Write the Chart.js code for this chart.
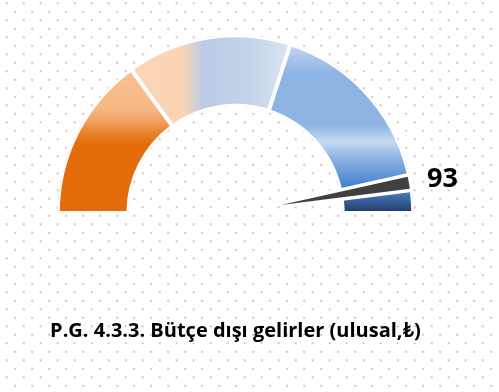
<!DOCTYPE html>
<html lang="tr">
<head>
<meta charset="utf-8">
<title>P.G. 4.3.3. Bütçe dışı gelirler</title>
<script src="https://cdn.jsdelivr.net/npm/chart.js@4.4.1/dist/chart.umd.min.js"></script>
<style>
  html, body { margin: 0; padding: 0; background: #fff; }
  #wrap { position: relative; width: 499px; height: 392px; overflow: hidden; }
  #wrap canvas { position: absolute; left: 0; top: 0; }
</style>
</head>
<body>
<div id="wrap">
  <canvas id="dots" width="499" height="392"></canvas>
  <canvas id="gauge" width="499" height="392"></canvas>
  <canvas id="halo" width="499" height="392"></canvas>
  <canvas id="needle" width="499" height="392"></canvas>
</div>
<script>
// ---- data ----
const bandLabels = ['Bant 1', 'Bant 2', 'Bant 3', 'Bant 4'];
const bandValues = [30, 30, 35, 5];
const needleValue = 93;
const needleWidth = 3;
const scaleMax = 100;
const titleText = 'P.G. 4.3.3. Bütçe dışı gelirler (ulusal,₺)';

// needle pie: hidden part, needle slice, hidden rest
const needleData = [needleValue, needleWidth, scaleMax - needleValue - needleWidth];

// ---- geometry & style ----
const W = 499, H = 392;
const CX = 235.5, CY = 213;          // centre of the gauge ring
const R_GAUGE = 178;
const R_NEEDLE = 130;
const NEEDLE_SHIFT = 46;             // the needle slice is pulled out of the centre
const FONT = '"Open Sans", Lato, "Noto Sans", "DejaVu Sans", sans-serif';

// padding that puts the centre of a half-pie of radius r at (x, y)
function padAt(x, y, r) {
  return {
    left: x > W / 2 ? 2 * x - W : 0,
    right: x > W / 2 ? 0 : W - 2 * x,
    top: 0,
    bottom: H - 2 * (y - r / 2)
  };
}

// the exploded needle slice keeps its angles, its apex moves along the bisector
const needleMid = Math.PI * (needleValue + needleWidth / 2) / scaleMax;
const APEX_X = CX - Math.cos(needleMid) * NEEDLE_SHIFT;
const APEX_Y = CY - Math.sin(needleMid) * NEEDLE_SHIFT;

// dotted backdrop
(function drawDots() {
  const c = document.getElementById('dots').getContext('2d');
  c.fillStyle = 'rgba(222,120,120,0.5)';
  for (let r = 0; ; r++) {
    const y = 3.3 + 8.5 * r;
    if (y > H) break;
    for (let x = 6.7 + (r % 2 ? 8.5 : 0); x < W; x += 17) {
      c.fillRect(x - 1, y - 1, 2, 2);
    }
  }
})();

const bandStops = [
  { dir: 'v', stops: [[0, '#F9C292'], [0.2, '#F9C191'], [0.41, '#F7B884'], [0.49, '#F0A060'], [0.55, '#E8822A'], [0.62, '#E46C0A'], [1, '#E46C0A']] },
  { dir: 'h', stops: [[0, '#FBD6B7'], [0.35, '#FBD4B4'], [0.409, '#BACDE5'], [0.54, '#C3D4EA'], [0.66, '#DCE6F2'], [1, '#DCE6F2']] },
  { dir: 'v', stops: [[0, '#C6D9F1'], [0.05, '#C6D9F1'], [0.213, '#8EB4E3'], [0.506, '#8EB4E3'], [0.601, '#C6D9F1'], [0.69, '#8EB4E3'], [0.84, '#4A84CF'], [1, '#3E74BC']] },
  { dir: 'v', stops: [[0, '#5585C6'], [0.85, '#5585C6'], [0.9, '#4470AE'], [1, '#1F3A66']] }
];
const bandFallback = ['#E46C0A', '#C6D9F1', '#8EB4E3', '#1F3A66'];

function bandFill(context) {
  const chart = context.chart;
  const area = chart.chartArea;
  if (!area) return bandFallback[context.dataIndex];
  const cx = (area.left + area.right) / 2;
  const cy = (area.top + area.bottom) / 2 + R_GAUGE / 2;
  const spec = bandStops[context.dataIndex];
  const g = spec.dir === 'v'
    ? chart.ctx.createLinearGradient(0, cy - R_GAUGE, 0, cy)
    : chart.ctx.createLinearGradient(cx - R_GAUGE, 0, cx + R_GAUGE, 0);
  spec.stops.forEach(([t, c]) => g.addColorStop(t, c));
  return g;
}

const common = {
  responsive: false,
  maintainAspectRatio: false,
  animation: false,
  events: [],
  rotation: -90,
  circumference: 180,
  plugins: { legend: { display: false }, tooltip: { enabled: false } }
};

// gauge ring with the title underneath
const TITLE_SIZE = 20;
const TITLE_LH = 1.2;
const gaugePad = padAt(CX, CY, R_GAUGE);
const titleBox = gaugePad.bottom;
const titleTop = 331.5 - (H - titleBox) - TITLE_SIZE * TITLE_LH / 2;

new Chart(document.getElementById('gauge'), {
  type: 'doughnut',
  data: {
    labels: bandLabels,
    datasets: [{
      data: bandValues,
      backgroundColor: bandFill,
      borderColor: '#ffffff',
      borderWidth: 2,
      borderAlign: 'inner'
    }]
  },
  options: Object.assign({}, common, {
    radius: R_GAUGE,
    cutout: '60%',
    layout: { padding: { left: gaugePad.left, top: 0, right: gaugePad.right, bottom: 0 } },
    plugins: {
      legend: { display: false },
      tooltip: { enabled: false },
      title: {
        display: true,
        position: 'bottom',
        text: titleText,
        color: '#000000',
        font: { family: FONT, size: TITLE_SIZE, weight: 'bold', lineHeight: TITLE_LH },
        padding: { top: titleTop, bottom: titleBox - titleTop - TITLE_SIZE * TITLE_LH }
      }
    }
  })
});

// white halo around the needle
new Chart(document.getElementById('halo'), {
  type: 'pie',
  data: {
    datasets: [{
      data: needleData,
      backgroundColor: ['rgba(0,0,0,0)', '#ffffff', 'rgba(0,0,0,0)'],
      borderColor: '#ffffff',
      borderWidth: [0, 7, 0]
    }]
  },
  options: Object.assign({}, common, {
    radius: R_NEEDLE,
    layout: { padding: padAt(APEX_X, APEX_Y, R_NEEDLE) }
  })
});

// needle with its value label
const valueLabel = {
  id: 'valueLabel',
  afterDatasetsDraw(chart) {
    const ctx = chart.ctx;
    ctx.save();
    ctx.font = 'bold 27px ' + FONT;
    ctx.fillStyle = '#000000';
    ctx.textAlign = 'left';
    ctx.textBaseline = 'alphabetic';
    ctx.fillText(String(chart.data.datasets[0].data[0]), CX + 191.5, CY - 25.7);
    ctx.restore();
  }
};

new Chart(document.getElementById('needle'), {
  type: 'pie',
  data: {
    datasets: [{
      data: needleData,
      backgroundColor: ['rgba(0,0,0,0)', '#404040', 'rgba(0,0,0,0)'],
      borderWidth: 0
    }]
  },
  options: Object.assign({}, common, {
    radius: R_NEEDLE,
    layout: { padding: padAt(APEX_X, APEX_Y, R_NEEDLE) }
  }),
  plugins: [valueLabel]
});
</script>
</body>
</html>
